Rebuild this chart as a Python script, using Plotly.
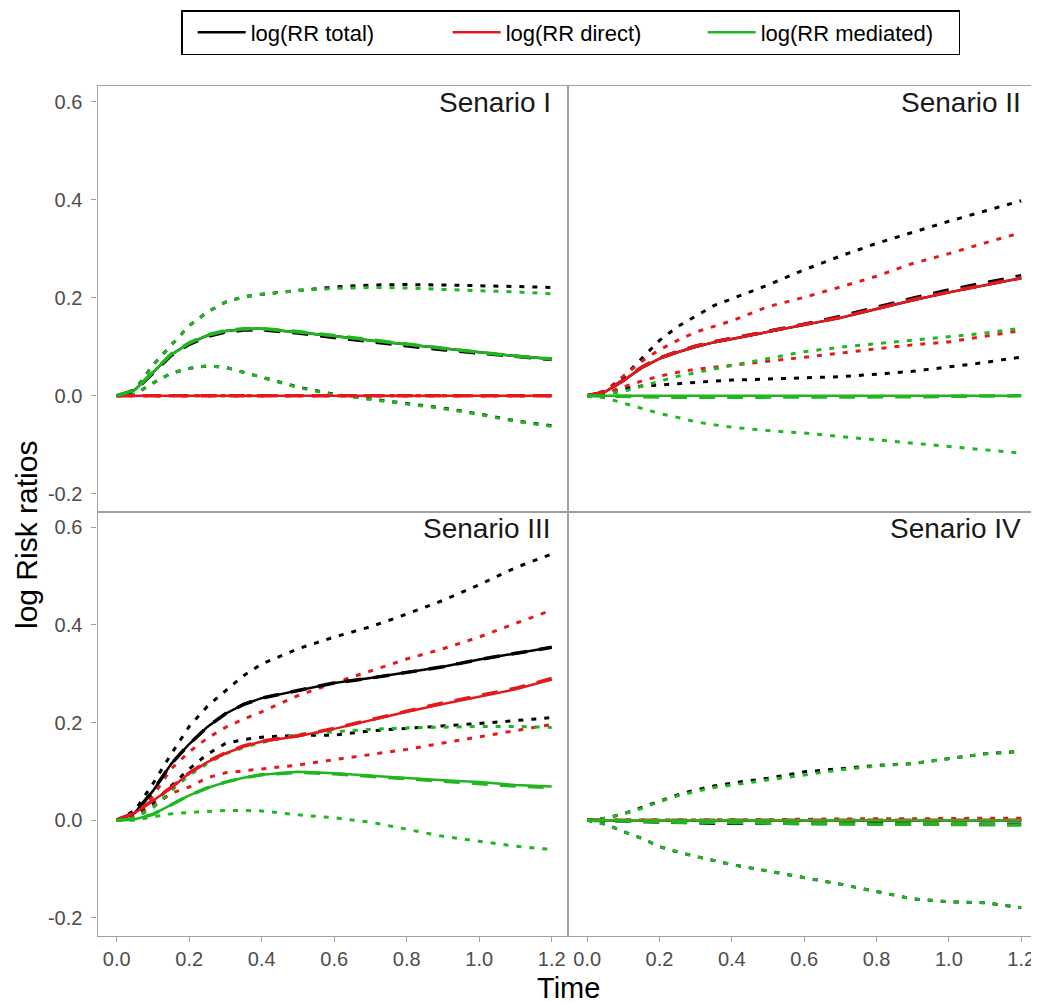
import plotly.graph_objects as go

# ---------------- data ----------------
T = [0, 0.05, 0.1, 0.15, 0.2, 0.25, 0.3, 0.35, 0.4, 0.5, 0.6, 0.7, 0.8, 0.9, 1.0, 1.1, 1.2]

SCENARIOS = ["Senario I", "Senario II", "Senario III", "Senario IV"]
SERIES = ["log(RR total)", "log(RR direct)", "log(RR mediated)"]

X_TICKS = [0, 0.2, 0.4, 0.6, 0.8, 1.0, 1.2]
X_TICKLABELS = ["0.0", "0.2", "0.4", "0.6", "0.8", "1.0", "1.2"]
Y_TICKS = [-0.2, 0.0, 0.2, 0.4, 0.6]
Y_TICKLABELS = ["-0.2", "0.0", "0.2", "0.4", "0.6"]

# Scenario I
s1_total = [0, 0.012, 0.048, 0.084, 0.107, 0.123, 0.132, 0.136, 0.137, 0.130, 0.122, 0.113, 0.105, 0.096, 0.089, 0.081, 0.075]
s1_total_est = [0, 0.011, 0.046, 0.082, 0.105, 0.121, 0.130, 0.134, 0.135, 0.128, 0.119, 0.110, 0.102, 0.094, 0.087, 0.080, 0.074]
s1_total_hi = [0, 0.012, 0.063, 0.103, 0.143, 0.171, 0.191, 0.202, 0.207, 0.215, 0.222, 0.226, 0.227, 0.226, 0.225, 0.223, 0.221]
s1_total_lo = [0, 0.003, 0.026, 0.046, 0.056, 0.061, 0.058, 0.048, 0.039, 0.018, 0.003, -0.006, -0.016, -0.025, -0.037, -0.051, -0.061]
s1_direct = [0, 0, 0, 0, 0, 0, 0, 0, 0, 0, 0, 0, 0, 0, 0, 0, 0]
s1_direct_est = [0, 0, 0, 0, 0, 0, 0, 0, 0, 0, 0, 0, 0, 0, 0, 0, 0]
s1_direct_hi = [0, 0, 0, 0, 0, 0, 0, 0, 0, 0, 0, 0, 0, 0, 0, 0, 0]
s1_direct_lo = [0, 0, 0, 0, 0, 0, 0, 0, 0, 0, 0, 0, 0, 0, 0, 0, 0]
s1_med = [0, 0.012, 0.048, 0.084, 0.107, 0.123, 0.132, 0.136, 0.137, 0.130, 0.122, 0.113, 0.105, 0.096, 0.089, 0.081, 0.075]
s1_med_est = [0, 0.012, 0.048, 0.085, 0.108, 0.124, 0.133, 0.137, 0.137, 0.131, 0.123, 0.114, 0.106, 0.097, 0.089, 0.081, 0.075]
s1_med_hi = [0, 0.012, 0.063, 0.103, 0.143, 0.171, 0.191, 0.202, 0.207, 0.215, 0.219, 0.221, 0.220, 0.217, 0.215, 0.212, 0.208]
s1_med_lo = [0, 0.003, 0.026, 0.046, 0.056, 0.061, 0.058, 0.048, 0.038, 0.017, 0.002, -0.007, -0.017, -0.026, -0.038, -0.052, -0.062]

# Scenario II
s2_total = [0, 0.008, 0.031, 0.057, 0.076, 0.089, 0.100, 0.109, 0.116, 0.130, 0.144, 0.159, 0.177, 0.195, 0.211, 0.226, 0.240]
s2_total_est = [0, 0.008, 0.032, 0.058, 0.077, 0.090, 0.101, 0.110, 0.117, 0.131, 0.146, 0.162, 0.181, 0.199, 0.216, 0.231, 0.245]
s2_total_hi = [0, 0.010, 0.038, 0.076, 0.113, 0.141, 0.163, 0.184, 0.198, 0.226, 0.257, 0.285, 0.311, 0.334, 0.356, 0.377, 0.398]
s2_total_lo = [0, 0.005, 0.015, 0.020, 0.022, 0.025, 0.028, 0.030, 0.032, 0.034, 0.037, 0.039, 0.044, 0.050, 0.059, 0.068, 0.079]
s2_direct = [0, 0.008, 0.031, 0.057, 0.076, 0.089, 0.100, 0.109, 0.116, 0.130, 0.144, 0.159, 0.177, 0.195, 0.211, 0.226, 0.240]
s2_direct_est = [0, 0.008, 0.031, 0.058, 0.077, 0.090, 0.101, 0.110, 0.117, 0.131, 0.145, 0.160, 0.178, 0.196, 0.212, 0.227, 0.241]
s2_direct_hi = [0, 0.010, 0.040, 0.070, 0.094, 0.113, 0.130, 0.141, 0.153, 0.182, 0.201, 0.222, 0.244, 0.270, 0.290, 0.312, 0.333]
s2_direct_lo = [0, 0.005, 0.018, 0.030, 0.040, 0.048, 0.054, 0.058, 0.063, 0.071, 0.079, 0.087, 0.096, 0.104, 0.110, 0.121, 0.133]
s2_med = [0, 0, 0, 0, 0, 0, 0, 0, 0, 0, 0, 0, 0, 0, 0, 0, 0]
s2_med_est = [0, 0, -0.001, -0.002, -0.003, -0.003, -0.003, -0.003, -0.003, -0.003, -0.003, -0.003, -0.002, -0.002, -0.001, 0, 0]
s2_med_hi = [0, 0.003, 0.009, 0.019, 0.030, 0.040, 0.047, 0.055, 0.062, 0.076, 0.090, 0.099, 0.106, 0.113, 0.120, 0.128, 0.138]
s2_med_lo = [0, -0.004, -0.015, -0.026, -0.036, -0.044, -0.053, -0.059, -0.064, -0.071, -0.076, -0.083, -0.090, -0.097, -0.103, -0.111, -0.117]

# Scenario III
s3_total = [0, 0.015, 0.060, 0.115, 0.156, 0.191, 0.218, 0.237, 0.250, 0.266, 0.281, 0.291, 0.302, 0.314, 0.329, 0.342, 0.354]
s3_total_est = [0, 0.015, 0.060, 0.115, 0.156, 0.191, 0.218, 0.237, 0.250, 0.266, 0.281, 0.291, 0.302, 0.314, 0.329, 0.342, 0.354]
s3_total_hi = [0, 0.020, 0.075, 0.135, 0.192, 0.233, 0.265, 0.296, 0.320, 0.351, 0.375, 0.396, 0.422, 0.450, 0.482, 0.517, 0.545]
s3_total_lo = [0, 0.010, 0.035, 0.070, 0.105, 0.135, 0.157, 0.165, 0.170, 0.174, 0.174, 0.183, 0.188, 0.192, 0.198, 0.204, 0.210]
s3_direct = [0, 0.015, 0.040, 0.066, 0.096, 0.119, 0.137, 0.151, 0.161, 0.172, 0.187, 0.205, 0.222, 0.238, 0.253, 0.268, 0.288]
s3_direct_est = [0, 0.015, 0.041, 0.067, 0.097, 0.120, 0.138, 0.152, 0.162, 0.173, 0.188, 0.206, 0.223, 0.240, 0.255, 0.270, 0.290]
s3_direct_hi = [0, 0.015, 0.050, 0.105, 0.140, 0.168, 0.190, 0.207, 0.222, 0.255, 0.281, 0.306, 0.330, 0.351, 0.375, 0.403, 0.430]
s3_direct_lo = [0, 0.008, 0.028, 0.055, 0.068, 0.087, 0.097, 0.101, 0.104, 0.113, 0.124, 0.135, 0.145, 0.158, 0.171, 0.183, 0.196]
s3_med = [0, 0.002, 0.012, 0.032, 0.051, 0.066, 0.078, 0.087, 0.093, 0.099, 0.096, 0.091, 0.086, 0.082, 0.078, 0.072, 0.069]
s3_med_est = [0, 0.002, 0.012, 0.032, 0.051, 0.066, 0.078, 0.087, 0.093, 0.098, 0.095, 0.090, 0.085, 0.080, 0.076, 0.070, 0.067]
s3_med_hi = [0, 0.005, 0.025, 0.060, 0.092, 0.116, 0.136, 0.149, 0.159, 0.176, 0.181, 0.186, 0.189, 0.191, 0.192, 0.192, 0.190]
s3_med_lo = [0, 0.000, 0.007, 0.013, 0.016, 0.018, 0.020, 0.020, 0.019, 0.011, 0.005, -0.004, -0.018, -0.033, -0.043, -0.053, -0.060]

# Scenario IV
s4_total = [0, 0, 0, 0, 0, 0, 0, 0, 0, 0, 0, 0, 0, 0, 0, 0, 0]
s4_total_est = [0, -0.001, -0.002, -0.003, -0.004, -0.005, -0.005, -0.006, -0.006, -0.006, -0.007, -0.007, -0.007, -0.008, -0.008, -0.008, -0.008]
s4_total_hi = [0, 0.004, 0.013, 0.026, 0.040, 0.052, 0.062, 0.070, 0.076, 0.086, 0.099, 0.106, 0.112, 0.116, 0.126, 0.136, 0.141]
s4_total_lo = [0, -0.008, -0.023, -0.037, -0.054, -0.065, -0.074, -0.083, -0.091, -0.104, -0.117, -0.131, -0.146, -0.161, -0.167, -0.169, -0.179]
s4_direct = [0, 0, 0, 0, 0, 0, 0, 0, 0, 0, 0, 0, 0, 0, 0, 0, 0]
s4_direct_est = [0, 0, 0, 0, 0, 0, 0, 0, 0, 0, 0, 0, 0, 0, 0, 0, 0]
s4_direct_hi = [0, 0, 0, 0, 0, 0, 0, 0, 0, 0.001, 0.002, 0.003, 0.003, 0.003, 0.004, 0.004, 0.004]
s4_direct_lo = [0, 0, 0, 0, 0, 0, 0, 0, 0, 0, 0, 0, 0, 0, 0, 0, 0]
s4_med = [0, 0, 0, 0, 0, 0, 0, 0, 0, 0, 0, 0, 0, 0, 0, 0, 0]
s4_med_est = [0, -0.001, -0.002, -0.003, -0.003, -0.004, -0.004, -0.005, -0.005, -0.006, -0.007, -0.007, -0.008, -0.008, -0.009, -0.009, -0.010]
s4_med_hi = [0, 0.004, 0.013, 0.024, 0.038, 0.050, 0.059, 0.067, 0.072, 0.082, 0.093, 0.103, 0.111, 0.116, 0.126, 0.136, 0.141]
s4_med_lo = [0, -0.008, -0.023, -0.037, -0.054, -0.065, -0.074, -0.083, -0.091, -0.104, -0.117, -0.131, -0.146, -0.161, -0.167, -0.169, -0.179]

PANELS = [
    [(s1_total, s1_total_est, s1_total_lo, s1_total_hi),
     (s1_direct, s1_direct_est, s1_direct_lo, s1_direct_hi),
     (s1_med, s1_med_est, s1_med_lo, s1_med_hi)],
    [(s2_total, s2_total_est, s2_total_lo, s2_total_hi),
     (s2_direct, s2_direct_est, s2_direct_lo, s2_direct_hi),
     (s2_med, s2_med_est, s2_med_lo, s2_med_hi)],
    [(s3_total, s3_total_est, s3_total_lo, s3_total_hi),
     (s3_direct, s3_direct_est, s3_direct_lo, s3_direct_hi),
     (s3_med, s3_med_est, s3_med_lo, s3_med_hi)],
    [(s4_total, s4_total_est, s4_total_lo, s4_total_hi),
     (s4_direct, s4_direct_est, s4_direct_lo, s4_direct_hi),
     (s4_med, s4_med_est, s4_med_lo, s4_med_hi)],
]

# ---------------- styling ----------------
COLORS = ["#000000", "#e4191c", "#1fb61f"]
# the page body adds an 8px margin, so the figure is laid out 8px in
OFF = 8
W, H = 1039 - OFF, 1003 - OFF
FONT = "Liberation Sans, Arial, Helvetica, sans-serif"
BORDER = "#a0a0a0"
TICKTXT = "#4d4d4d"


def px(x):
    return (x - OFF) / W


def py(y):
    return 1 - (y - OFF) / H


XL = [px(97.5), px(568)]
XR = [px(568), px(1037.5)]
YT = [py(511.5), py(86)]
YB = [py(935.5), py(511.5)]
DOMAINS = [(XL, YT), (XR, YT), (XL, YB), (XR, YB)]
XRANGE = [-0.053, 1.245]
YRANGE = [-0.236, 0.632]

fig = go.Figure()

for p, panel in enumerate(PANELS):
    xa = "x" if p == 0 else f"x{p + 1}"
    ya = "y" if p == 0 else f"y{p + 1}"
    for s, (true_v, est_v, lo_v, hi_v) in enumerate(panel):
        col = COLORS[s]
        for band in (hi_v, lo_v):
            fig.add_trace(go.Scatter(
                x=T, y=band, xaxis=xa, yaxis=ya, mode="lines",
                line=dict(color=col, width=3, dash="5px,8px"),
                showlegend=False, hoverinfo="skip"))
    for s, (true_v, est_v, lo_v, hi_v) in enumerate(panel):
        col = COLORS[s]
        fig.add_trace(go.Scatter(
            x=T, y=est_v, xaxis=xa, yaxis=ya, mode="lines",
            line=dict(color=col, width=3.5, dash="16px,12px"),
            showlegend=False, hoverinfo="skip"))
        fig.add_trace(go.Scatter(
            x=T, y=true_v, xaxis=xa, yaxis=ya, mode="lines",
            line=dict(color=col, width=2.5),
            name=SERIES[s], legendgroup=SERIES[s],
            showlegend=(p == 0)))

axis_common = dict(showgrid=False, zeroline=False, showline=True, mirror=True,
                   linecolor=BORDER, linewidth=1.2,
                   tickfont=dict(family=FONT, size=20, color=TICKTXT),
                   tickcolor=BORDER, ticklen=5, tickwidth=1)

layout_axes = {}
for p, (xd, yd) in enumerate(DOMAINS):
    xkey = "xaxis" if p == 0 else f"xaxis{p + 1}"
    ykey = "yaxis" if p == 0 else f"yaxis{p + 1}"
    xa_anchor = "y" if p == 0 else f"y{p + 1}"
    ya_anchor = "x" if p == 0 else f"x{p + 1}"
    bottom = p >= 2
    left = p % 2 == 0
    layout_axes[xkey] = dict(axis_common, domain=xd, anchor=xa_anchor, range=XRANGE,
                             tickvals=X_TICKS, ticktext=X_TICKLABELS,
                             ticks="outside" if bottom else "",
                             showticklabels=bottom)
    layout_axes[ykey] = dict(axis_common, domain=yd, anchor=ya_anchor, range=YRANGE,
                             tickvals=Y_TICKS, ticktext=Y_TICKLABELS,
                             ticks="outside" if left else "",
                             ticklabelstandoff=5,
                             showticklabels=left)

annotations = []
for p, name in enumerate(SCENARIOS):
    xr = "x domain" if p == 0 else f"x{p + 1} domain"
    yr = "y domain" if p == 0 else f"y{p + 1} domain"
    annotations.append(dict(text=name, xref=xr, yref=yr, x=1, y=1,
                            xanchor="right", yanchor="top", xshift=-15, yshift=1,
                            showarrow=False,
                            font=dict(family=FONT, size=28, color="#1a1a1a")))
annotations.append(dict(text="log Risk ratios", xref="paper", yref="paper",
                        x=px(26), y=py(535), textangle=-90,
                        xanchor="center", yanchor="middle", showarrow=False,
                        font=dict(family=FONT, size=30, color="#000000")))
annotations.append(dict(text="Time", xref="paper", yref="paper",
                        x=px(568), y=py(988),
                        xanchor="center", yanchor="middle", showarrow=False,
                        font=dict(family=FONT, size=29, color="#000000")))

fig.update_layout(
    width=W, height=H, autosize=False,
    margin=dict(l=0, r=0, t=0, b=0),
    paper_bgcolor="white", plot_bgcolor="white",
    font=dict(family=FONT),
    showlegend=True,
    legend=dict(orientation="h", x=px(181), xanchor="left", y=py(10), yanchor="top",
                bordercolor="#000000", borderwidth=1.5, bgcolor="white",
                title=dict(text="\u00a0", side="left", font=dict(size=6)),
                font=dict(family=FONT, size=22, color="#000000"),
                itemwidth=48, entrywidth=192, entrywidthmode="pixels"),
    annotations=annotations,
    **layout_axes,
)

fig.write_html("out.html")
